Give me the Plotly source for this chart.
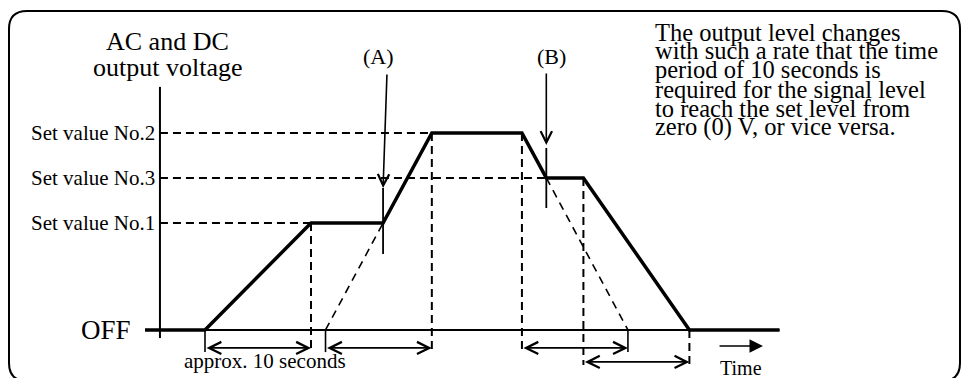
import plotly.graph_objects as go

# ---------------- data ----------------
RAMP_SECONDS = 10.0                       # 0 V <-> set level takes ~10 s
LEVEL_NAMES = ["OFF", "Set value No.1", "Set value No.2", "Set value No.3"]
LEVELS = [0.0, 5.43, 10.0, 7.72]          # output level (relative units)
WAVE_T = [-5.66, 0.0, 10.0, 16.8, 21.4, 29.9, 32.2, 35.7, 45.7, 54.2]   # s
WAVE_V = [0.0, 0.0, 5.43, 5.43, 10.0, 10.0, 7.72, 7.72, 0.0, 0.0]
MARK_LABELS = ["(A)", "(B)"]
NOTE_LINES = [
    "The output level changes",
    "with such a rate that the time",
    "period of 10 seconds is",
    "required for the signal level",
    "to reach the set level from",
    "zero (0) V, or vice versa.",
]
Y_TITLE = ["AC and DC", "output voltage"]
X_TITLE = "Time"
SPAN_LABEL = "approx. 10 seconds"

# ---------------- layout helpers ----------------
W, H = 965, 378
X_RANGE = [-19.34, 71.70]
Y_RANGE = [-2.437, 16.751]
FONT = "Liberation Serif"

V_OFF, V1, V2, V3 = LEVELS
t_start, t1, tA, t2, tB0, t3, t3e, t_end = WAVE_T[1:9]
t_last = WAVE_T[-1]
AXIS_T = -4.25
AXIS_TOP = 12.34
AXIS_BOT = -0.41
TICK_BOT = -1.12
LONG_BOT = -1.78
ROW1, ROW2 = -0.91, -1.62

# extrapolated ramp lines
tA_zero = tA - V1 / V2 * RAMP_SECONDS       # where ramp to No.2 would start from 0
tB_zero = tB0 + RAMP_SECONDS                # where ramp down from No.2 would hit 0

fig = go.Figure()

def add_line(xs, ys, width, dash="solid", color="black"):
    fig.add_trace(go.Scatter(x=xs, y=ys, mode="lines",
                             line=dict(color=color, width=width, dash=dash),
                             hoverinfo="skip", showlegend=False))

# baseline and vertical axis
add_line([AXIS_T, t_last], [V_OFF, V_OFF], 2)
add_line([AXIS_T, AXIS_T], [AXIS_BOT, AXIS_TOP], 2)

# dashed guides (horizontal levels + vertical drop lines)
gx, gy = [], []
for tt, vv in [(t2, V2), (t3, V3), (t1, V1)]:
    gx += [AXIS_T, tt, None]; gy += [vv, vv, None]
for tt, vv, bot in [(t1, V1, TICK_BOT), (t2, V2, TICK_BOT), (tB0, V2, TICK_BOT),
                    (t3e, V3, LONG_BOT), (t_end, V_OFF, LONG_BOT)]:
    gx += [tt, tt, None]; gy += [vv, bot, None]
add_line(gx, gy, 2, dash="8px,5px")

# slanted dashed extrapolations
add_line([tA_zero, tA, None, t3, tB_zero], [V_OFF, V1, None, V3, V_OFF], 1.6, dash="8px,6px")

# short solid ticks below baseline
sx, sy = [], []
for tt in [t_start, tA_zero, tB_zero]:
    sx += [tt, tt, None]; sy += [V_OFF, TICK_BOT, None]
add_line(sx, sy, 1.6)

# marker lines at (A) and (B)
add_line([tA, tA, None, t3, t3], [7.21, 3.86, None, 9.24, 6.19], 1.8)

# waveform
add_line(WAVE_T, WAVE_V, 3.5)

ann = []
# double arrows for ~10 s spans
for a, b, row in [(t_start, t1, ROW1), (tA_zero, t2, ROW1), (tB0, tB_zero, ROW1), (t3e, t_end, ROW2)]:
    ann.append(dict(x=b, y=row, ax=a, ay=row, xref="x", yref="y", axref="x", ayref="y",
                    text="", showarrow=True, arrowhead=5, startarrowhead=5,
                    arrowside="end+start", arrowsize=1.5, startarrowsize=1.5,
                    arrowwidth=1.6, standoff=0, startstandoff=0, arrowcolor="black"))
# time arrow
ann.append(dict(x=52.64, y=-0.81, ax=48.4, ay=-0.81, xref="x", yref="y", axref="x", ayref="y",
                text="", showarrow=True, arrowhead=2, arrowsize=1.8, arrowwidth=1.5,
                standoff=0, arrowcolor="black"))
# (A) and (B) arrows
ann.append(dict(x=tA, y=7.21, ax=17.17, ay=13.05, xref="x", yref="y", axref="x", ayref="y",
                text="", showarrow=True, arrowhead=5, arrowsize=1.4, arrowwidth=1.6,
                standoff=0, arrowcolor="black"))
ann.append(dict(x=t3, y=9.39, ax=t3, ay=13.10, xref="x", yref="y", axref="x", ayref="y",
                text="", showarrow=True, arrowhead=5, arrowsize=1.4, arrowwidth=1.6,
                standoff=0, arrowcolor="black"))

def txt(x, y, s, size, xanchor="center", yanchor="middle", xref="x", yref="y"):
    ann.append(dict(x=x, y=y, text=s, showarrow=False, xref=xref, yref=yref,
                    xanchor=xanchor, yanchor=yanchor,
                    font=dict(family=FONT, size=size, color="black")))

# level labels
for name, lv in zip(LEVEL_NAMES, LEVELS):
    if name == "OFF":
        txt(-6.79, lv, name, 27, xanchor="right")
    else:
        txt(-4.53, lv, name, 21, xanchor="right")

# marker labels
txt(16.4, 13.9, MARK_LABELS[0], 22)
txt(32.7, 13.9, MARK_LABELS[1], 22)

# axis titles
txt(-3.5, 14.62, Y_TITLE[0], 26)
txt(-3.5, 13.35, Y_TITLE[1], 26)
txt(50.57, -1.93, X_TITLE, 20)
txt(5.66, -1.57, SPAN_LABEL, 21)

# note paragraph
for i, line in enumerate(NOTE_LINES):
    y_px = 32 + i * 19
    txt(653 / W, 1 - y_px / H, line, 24.5, xanchor="left", xref="paper", yref="paper")

# rounded frame
L, R, T, B, r = 9, 960, 11, 381, 18
px = lambda v: v / W
py = lambda v: 1 - v / H
path = (f"M{px(L+r)},{py(T)} L{px(R-r)},{py(T)} Q{px(R)},{py(T)} {px(R)},{py(T+r)} "
        f"L{px(R)},{py(B-r)} Q{px(R)},{py(B)} {px(R-r)},{py(B)} "
        f"L{px(L+r)},{py(B)} Q{px(L)},{py(B)} {px(L)},{py(B-r)} "
        f"L{px(L)},{py(T+r)} Q{px(L)},{py(T)} {px(L+r)},{py(T)} Z")

fig.update_layout(
    width=W, height=H, margin=dict(l=0, r=0, t=0, b=0),
    paper_bgcolor="white", plot_bgcolor="white",
    xaxis=dict(range=X_RANGE, visible=False, fixedrange=True),
    yaxis=dict(range=Y_RANGE, visible=False, fixedrange=True),
    annotations=ann,
    shapes=[dict(type="path", path=path, xref="paper", yref="paper",
                 line=dict(color="black", width=2), layer="above")],
    showlegend=False,
)
fig.write_html(
    "out.html",
    config=dict(displayModeBar=False),
    post_script="document.body.style.margin='0px';document.body.style.padding='0px';document.body.style.overflow='hidden';",
)
